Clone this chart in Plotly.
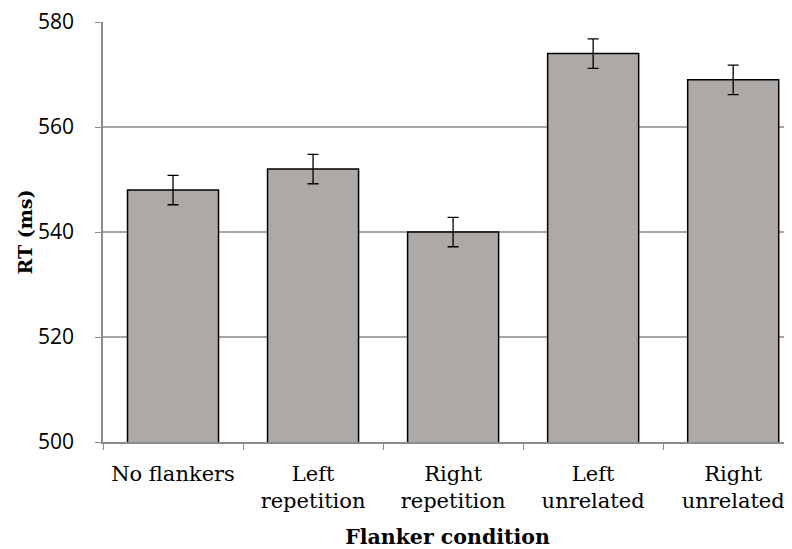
import plotly.graph_objects as go

categories = ["No flankers", "Left<br>repetition", "Right<br>repetition", "Left<br>unrelated", "Right<br>unrelated"]
rt_values = [548, 552, 540, 574, 569]
rt_errors = [2.8, 2.8, 2.8, 2.8, 2.8]
y_ticks = [500, 520, 540, 560, 580]

fig = go.Figure()
fig.add_trace(go.Bar(
    x=categories, y=rt_values, width=0.65,
    marker=dict(color="#ADA9A7", line=dict(color="#000000", width=1.5)),
    error_y=dict(type="data", array=rt_errors, visible=True, color="#000000", thickness=1.3, width=5.5),
))

fig.update_layout(
    width=784, height=541,
    margin=dict(l=95, r=0, t=14, b=107),
    plot_bgcolor="white", paper_bgcolor="white",
    showlegend=False,
    font=dict(family="DejaVu Serif", color="#000000"),
)
fig.update_xaxes(
    type="category", range=[-0.5, 4.42],
    showline=True, linecolor="#8c8c8c", linewidth=1.5,
    ticks="outside", tickson="boundaries", ticklen=6, tickcolor="#8c8c8c", tickwidth=1,
    ticklabelstandoff=12,
    tickfont=dict(family="DejaVu Serif", size=21, color="#000000"),
    title=dict(text="<b>Flanker condition</b>", font=dict(family="DejaVu Serif", size=20.5), standoff=20),
    showgrid=False,
)
fig.update_yaxes(
    range=[500, 580.02], tickvals=y_ticks,
    showline=True, linecolor="#8c8c8c", linewidth=1.5,
    ticks="outside", ticklen=6, tickcolor="#8c8c8c",
    ticklabelstandoff=17, ticklabeloverflow="allow",
    showgrid=True, gridcolor="#a6a6a6", gridwidth=1.5,
    tickfont=dict(family="Open Sans", size=21, color="#000000"),
    title=dict(text="<b>RT (ms)</b>", font=dict(family="DejaVu Serif", size=19), standoff=0),
    zeroline=False,
)

fig.write_html("out.html")
